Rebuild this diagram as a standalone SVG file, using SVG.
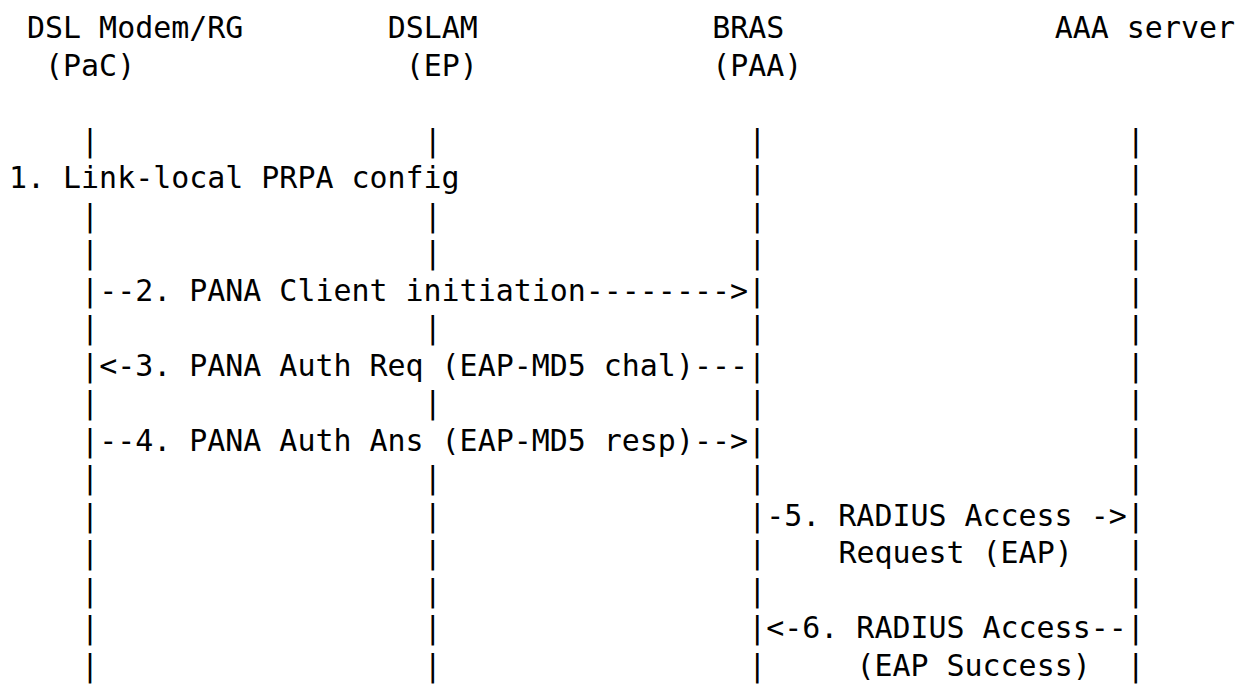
<svg xmlns="http://www.w3.org/2000/svg" width="1251" height="685" viewBox="0 0 1251 685">
  <style>
    text { font-family: "DejaVu Sans Mono", "Liberation Mono", monospace; font-size: 29.95px; fill: #000; white-space: pre; }
  </style>
  <rect width="1251" height="685" fill="#fff"/>

  <!-- Column grid: x = 9 + col * 18.03; row baselines every 37.5px from y = 38 -->

  <g id="node-pac">
    <text x="27.03" y="38">DSL Modem/RG</text>
    <text x="45.06" y="75.5">(PaC)</text>
  </g>
  <g id="node-dslam">
    <text x="387.63" y="38">DSLAM</text>
    <text x="405.66" y="75.5">(EP)</text>
  </g>
  <g id="node-bras">
    <text x="712.17" y="38">BRAS</text>
    <text x="712.17" y="75.5">(PAA)</text>
  </g>
  <g id="node-aaa">
    <text x="1054.74" y="38">AAA server</text>
  </g>

  <g id="connectors">
    <!-- lifelines drawn as pipe characters, one row each -->
    <g id="lifeline-pac">
      <text>
        <tspan x="81.12" y="150.5">|</tspan>
        <tspan x="81.12" y="225.5">|</tspan>
        <tspan x="81.12" y="263">|</tspan>
        <tspan x="81.12" y="338">|</tspan>
        <tspan x="81.12" y="413">|</tspan>
        <tspan x="81.12" y="488">|</tspan>
        <tspan x="81.12" y="525.5">|</tspan>
        <tspan x="81.12" y="563">|</tspan>
        <tspan x="81.12" y="600.5">|</tspan>
        <tspan x="81.12" y="638">|</tspan>
        <tspan x="81.12" y="675.5">|</tspan>
      </text>
    </g>
    <g id="lifeline-dslam">
      <text>
        <tspan x="423.69" y="150.5">|</tspan>
        <tspan x="423.69" y="225.5">|</tspan>
        <tspan x="423.69" y="263">|</tspan>
        <tspan x="423.69" y="338">|</tspan>
        <tspan x="423.69" y="413">|</tspan>
        <tspan x="423.69" y="488">|</tspan>
        <tspan x="423.69" y="525.5">|</tspan>
        <tspan x="423.69" y="563">|</tspan>
        <tspan x="423.69" y="600.5">|</tspan>
        <tspan x="423.69" y="638">|</tspan>
        <tspan x="423.69" y="675.5">|</tspan>
      </text>
    </g>
    <g id="lifeline-bras">
      <text>
        <tspan x="748.23" y="150.5">|</tspan>
        <tspan x="748.23" y="188">|</tspan>
        <tspan x="748.23" y="225.5">|</tspan>
        <tspan x="748.23" y="263">|</tspan>
        <tspan x="748.23" y="338">|</tspan>
        <tspan x="748.23" y="413">|</tspan>
        <tspan x="748.23" y="488">|</tspan>
        <tspan x="748.23" y="563">|</tspan>
        <tspan x="748.23" y="600.5">|</tspan>
        <tspan x="748.23" y="675.5">|</tspan>
      </text>
    </g>
    <g id="lifeline-aaa">
      <text>
        <tspan x="1126.86" y="150.5">|</tspan>
        <tspan x="1126.86" y="188">|</tspan>
        <tspan x="1126.86" y="225.5">|</tspan>
        <tspan x="1126.86" y="263">|</tspan>
        <tspan x="1126.86" y="300.5">|</tspan>
        <tspan x="1126.86" y="338">|</tspan>
        <tspan x="1126.86" y="375.5">|</tspan>
        <tspan x="1126.86" y="413">|</tspan>
        <tspan x="1126.86" y="450.5">|</tspan>
        <tspan x="1126.86" y="488">|</tspan>
        <tspan x="1126.86" y="563">|</tspan>
        <tspan x="1126.86" y="600.5">|</tspan>
        <tspan x="1126.86" y="675.5">|</tspan>
      </text>
    </g>

    <!-- step labels and message arrows -->
    <text id="msg-1" x="9" y="188">1. Link-local PRPA config</text>
    <text id="msg-2" x="81.12" y="300.5">|--2. PANA Client initiation--------&gt;|</text>
    <text id="msg-3" x="81.12" y="375.5">|&lt;-3. PANA Auth Req (EAP-MD5 chal)---|</text>
    <text id="msg-4" x="81.12" y="450.5">|--4. PANA Auth Ans (EAP-MD5 resp)--&gt;|</text>
    <text id="msg-5" x="748.23" y="525.5">|-5. RADIUS Access -&gt;|</text>
    <text id="msg-5b" x="838.38" y="563">Request (EAP)</text>
    <text id="msg-6" x="748.23" y="638">|&lt;-6. RADIUS Access--|</text>
    <text id="msg-6b" x="856.41" y="675.5">(EAP Success)</text>
  </g>
</svg>
